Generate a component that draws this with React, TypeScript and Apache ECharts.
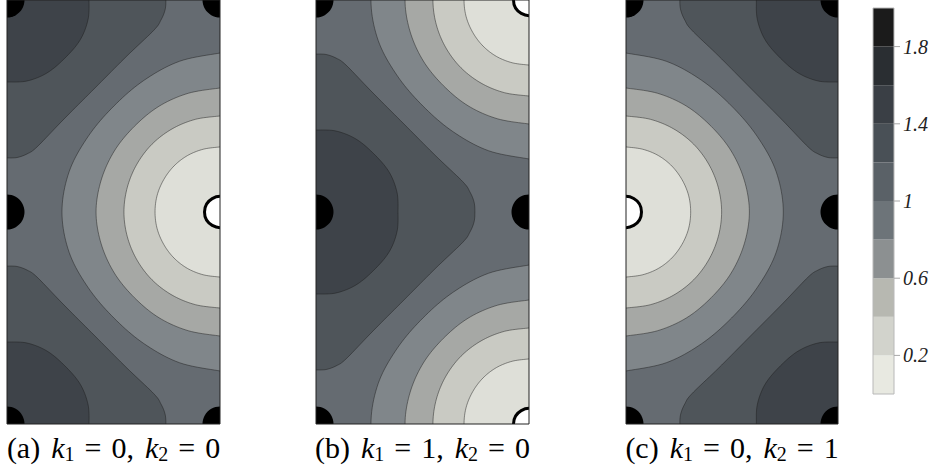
import React, { useEffect, useRef } from "react";
import * as echarts from "echarts";

// ---------- colour bar ----------
const colorbarLevels = [0, 0.2, 0.4, 0.6, 0.8, 1, 1.2, 1.4, 1.6, 1.8, 2];
const colorbarColors = ["#e8e9e1", "#d2d3cc", "#b7b8b1", "#8c9091", "#6d7479", "#5a6167", "#495056", "#3a3f45", "#2a2e32", "#1b1b1b"];
const colorbarTickValues = [0.2, 0.6, 1, 1.4, 1.8];

// ---------- panel bands (lightest -> darkest) ----------
const bandColors = ["#dedfd8", "#c9cac3", "#a6a8a5", "#80868a", "#656b71", "#4f555a", "#3e4349"];

// Contours around the zero (right-middle of panel a), upper half:
// from the right edge to the mid line. x: 0 (left) .. 1 (right), y: 0 (top) .. 1 (middle)
const contour02 = [[1, 0.693], [0.921, 0.704], [0.847, 0.734], [0.784, 0.783], [0.736, 0.847], [0.705, 0.921], [0.695, 1]];
const contour04 = [[1, 0.547], [0.884, 0.563], [0.775, 0.608], [0.681, 0.68], [0.61, 0.774], [0.565, 0.883], [0.549, 1]];
const contour06 = [[1, 0.415], [0.851, 0.44], [0.714, 0.501], [0.598, 0.596], [0.504, 0.712], [0.442, 0.85], [0.418, 1]];
const contour08 = [[1, 0.25], [0.81, 0.289], [0.643, 0.379], [0.502, 0.5], [0.382, 0.642], [0.292, 0.809], [0.258, 1]];
// Contours around the top-left corner of panel a: from the top edge to the left edge
const contour10 = [[0.746, 0], [0.742, 0.047], [0.723, 0.094], [0.69, 0.142], [0.563, 0.264], [0.413, 0.415], [0.263, 0.566], [0.141, 0.693], [0.094, 0.726], [0.047, 0.743], [0, 0.745]];
const contour12 = [[0.385, 0], [0.38, 0.094], [0.343, 0.189], [0.272, 0.274], [0.188, 0.344], [0.094, 0.382], [0, 0.387]];

const lightContours = [contour08, contour06, contour04, contour02];
const darkContours = [contour10, contour12];

// ---------- panels ----------
const panelLetters = ["a", "b", "c"];
const panelK1 = ["0", "1", "0"];
const panelK2 = ["0", "0", "1"];
const blackDisks = [
  [[0, 0], [0, 1], [0, 2], [1, 0], [1, 2]],
  [[0, 0], [0, 1], [0, 2], [1, 1]],
  [[1, 0], [1, 1], [1, 2], [0, 0], [0, 2]],
];
const whiteDisks = [[[1, 1]], [[1, 0], [1, 2]], [[0, 1]]];
const darkCentres = [[0, 2], [1], [0, 2]];
const lightCentres = [[1], [0, 2], [1]];
const mirroredPanel = [false, false, true];

// ---------- layout ----------
const panelLeft = [7, 316, 626];
const panelWidth = [213, 213, 212];
const PANEL_TOP = 0;
const PANEL_H = 424;
const CAPTION_Y = 447;
const SERIF = "Liberation Serif";

function catmull(pts: number[][], n = 10): number[][] {
  const out: number[][] = [];
  for (let i = 0; i < pts.length - 1; i++) {
    const p0 = pts[i - 1] || pts[i];
    const p1 = pts[i];
    const p2 = pts[i + 1];
    const p3 = pts[i + 2] || pts[i + 1];
    for (let k = 0; k < n; k++) {
      const t = k / n;
      const t2 = t * t;
      const t3 = t2 * t;
      const f = (a: number, b: number, c: number, d: number) =>
        0.5 * (2 * b + (-a + c) * t + (2 * a - 5 * b + 4 * c - d) * t2 + (-a + 3 * b - 3 * c + d) * t3);
      out.push([f(p0[0], p1[0], p2[0], p3[0]), f(p0[1], p1[1], p2[1], p3[1])]);
    }
  }
  out.push(pts[pts.length - 1]);
  return out;
}

function darkBlob(curve: number[][], c: number) {
  const up = curve.slice().reverse().map(([x, y]) => [x, c - y]);
  const down = curve.slice(1).map(([x, y]) => [x, c + y]);
  const line = catmull(up.concat(down));
  const e = curve[curve.length - 1][1];
  return { line, poly: line.concat([[-0.4, c + e], [-0.4, c - e]]) };
}

function lightBlob(curve: number[][], c: number) {
  const up = curve.map(([x, y]) => [x, c - (1 - y)]);
  const down = curve.slice().reverse().slice(1).map(([x, y]) => [x, c + (1 - y)]);
  const line = catmull(up.concat(down));
  const d0 = 1 - curve[0][1];
  return { line, poly: line.concat([[1.4, c + d0], [1.4, c - d0]]) };
}

function buildOption() {
  const grids: any[] = [];
  const xAxes: any[] = [];
  const yAxes: any[] = [];
  const series: any[] = [];

  for (let i = 0; i < 3; i++) {
    grids.push({ left: panelLeft[i], top: PANEL_TOP, width: panelWidth[i], height: PANEL_H });
    xAxes.push({ type: "value", gridIndex: i, min: 0, max: 1, show: false });
    yAxes.push({ type: "value", gridIndex: i, min: 0, max: 2, inverse: true, show: false });
    const mir = mirroredPanel[i];
    series.push({
      type: "custom",
      xAxisIndex: i,
      yAxisIndex: i,
      clip: true,
      silent: true,
      data: [[0]],
      renderItem: (params: any, api: any) => {
        const cs = params.coordSys;
        const tf = (p: number[]) => api.coord([mir ? 1 - p[0] : p[0], p[1]]);
        const children: any[] = [];
        const lines: number[][][] = [];
        children.push({ type: "rect", shape: { x: cs.x, y: cs.y, width: cs.width, height: cs.height }, style: { fill: bandColors[4] } });
        darkContours.forEach((curve, j) => {
          darkCentres[i].forEach((c) => {
            const b = darkBlob(curve, c);
            children.push({ type: "polygon", shape: { points: b.poly.map(tf) }, style: { fill: bandColors[5 + j] } });
            lines.push(b.line);
          });
        });
        lightContours.forEach((curve, j) => {
          lightCentres[i].forEach((c) => {
            const b = lightBlob(curve, c);
            children.push({ type: "polygon", shape: { points: b.poly.map(tf) }, style: { fill: bandColors[3 - j] } });
            lines.push(b.line);
          });
        });
        lines.forEach((l) => {
          children.push({ type: "polyline", shape: { points: l.map(tf) }, style: { fill: null, stroke: "rgba(30,30,30,0.6)", lineWidth: 0.8 } });
        });
        blackDisks[i].forEach((p) => {
          const q = api.coord(p);
          children.push({ type: "circle", shape: { cx: q[0], cy: q[1], r: 17.5 }, style: { fill: "#000" } });
        });
        whiteDisks[i].forEach((p) => {
          const q = api.coord(p);
          children.push({ type: "circle", shape: { cx: q[0], cy: q[1], r: 15.5 }, style: { fill: "#fff", stroke: "#000", lineWidth: 3 } });
        });
        return { type: "group", children };
      },
    });
    series.push({
      type: "custom",
      xAxisIndex: i,
      yAxisIndex: i,
      clip: false,
      silent: true,
      data: [[0]],
      renderItem: (params: any) => {
        const cs = params.coordSys;
        return { type: "rect", shape: { x: cs.x, y: cs.y, width: cs.width, height: cs.height }, style: { fill: null, stroke: "#222", lineWidth: 1 } };
      },
    });
  }

  // colour bar
  grids.push({ left: 873, top: 8, width: 21, height: 386 });
  xAxes.push({ type: "value", gridIndex: 3, min: 0, max: 1, show: false });
  yAxes.push({
    type: "value",
    gridIndex: 3,
    min: 0,
    max: 2,
    interval: 0.2,
    position: "right",
    axisLine: { show: false },
    axisTick: { show: false },
    splitLine: { show: false },
    axisLabel: {
      margin: 9,
      color: "#222",
      fontFamily: SERIF,
      fontStyle: "italic",
      fontSize: 20,
      formatter: (v: number) => {
        const t = colorbarTickValues.find((x) => Math.abs(x - v) < 1e-6);
        return t === undefined ? "" : String(t);
      },
    },
  });
  series.push({
    type: "custom",
    xAxisIndex: 3,
    yAxisIndex: 3,
    silent: true,
    data: [[0]],
    renderItem: (params: any, api: any) => {
      const children: any[] = [];
      colorbarColors.forEach((col, k) => {
        const a = api.coord([0, colorbarLevels[k + 1]]);
        const b = api.coord([1, colorbarLevels[k]]);
        children.push({ type: "rect", shape: { x: a[0], y: a[1], width: b[0] - a[0], height: b[1] - a[1] }, style: { fill: col } });
      });
      const tl = api.coord([0, 2]);
      const br = api.coord([1, 0]);
      children.push({ type: "rect", shape: { x: tl[0], y: tl[1], width: br[0] - tl[0], height: br[1] - tl[1] }, style: { fill: null, stroke: "#b8b8b8", lineWidth: 1 } });
      colorbarTickValues.forEach((t) => {
        const p = api.coord([1, t]);
        children.push({ type: "line", shape: { x1: p[0], y1: p[1], x2: p[0] + 6, y2: p[1] }, style: { stroke: "#a8a8a8", lineWidth: 1 } });
      });
      return { type: "group", children };
    },
  });

  const rich = {
    n: { fontFamily: SERIF, fontSize: 30, lineHeight: 34, color: "#111" },
    i: { fontFamily: SERIF, fontSize: 30, lineHeight: 34, fontStyle: "italic", color: "#111" },
    s: { fontFamily: SERIF, fontSize: 20, lineHeight: 20, verticalAlign: "bottom", color: "#111" },
    eq: { fontFamily: SERIF, fontSize: 30, lineHeight: 34, padding: [0, 10], color: "#111" },
    sp: { fontFamily: SERIF, fontSize: 30, lineHeight: 34, width: 11 },
  };

  const graphic = panelLetters.map((letter, i) => ({
    type: "text",
    x: panelLeft[i] + panelWidth[i] / 2,
    y: CAPTION_Y,
    silent: true,
    style: {
      text: `{n|(${letter})}{sp| }{i|k}{s|1}{eq|=}{n|${panelK1[i]},}{sp| }{i|k}{s|2}{eq|=}{n|${panelK2[i]}}`,
      rich,
      fontFamily: SERIF,
      align: "center",
      verticalAlign: "middle",
    },
  }));

  return {
    animation: false,
    backgroundColor: "#ffffff",
    grid: grids,
    xAxis: xAxes,
    yAxis: yAxes,
    series,
    graphic,
  };
}

export default function App() {
  const ref = useRef<HTMLDivElement>(null);
  useEffect(() => {
    if (!ref.current) return;
    const chart = echarts.init(ref.current, undefined, { renderer: "svg" });
    chart.setOption(buildOption() as any);
    return () => chart.dispose();
  }, []);
  return <div ref={ref} style={{ position: "fixed", left: 0, top: 0, width: 932, height: 471, background: "#fff" }} />;
}
